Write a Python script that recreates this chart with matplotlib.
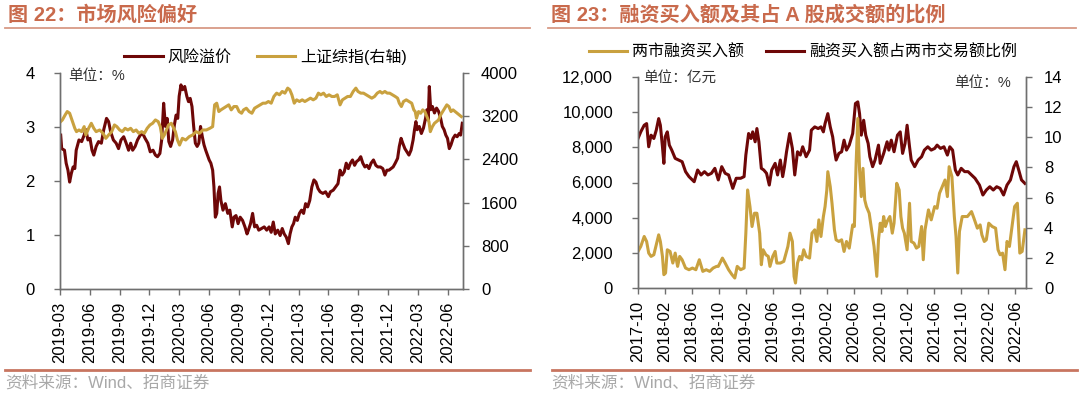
import matplotlib.pyplot as plt
from matplotlib.ticker import FuncFormatter

plt.rcParams['font.family'] = ['Liberation Sans', 'Noto Sans CJK SC']

# ---------------- data: chart 22 (months since 2019-03) ----------------
left_ticks = ['2019-03', '2019-06', '2019-09', '2019-12', '2020-03', '2020-06', '2020-09',
              '2020-12', '2021-03', '2021-06', '2021-09', '2021-12', '2022-03', '2022-06']

rp_m = [0.07, 0.17, 0.45, 0.62, 0.80, 0.97, 1.14, 1.32, 1.49, 1.63,
        1.91, 2.18, 2.43, 2.60, 2.81, 3.02, 3.22, 3.40, 3.64, 3.88,
        4.16, 4.40, 4.68, 4.89, 5.10, 5.37, 5.65, 5.89, 6.14, 6.41,
        6.66, 6.90, 7.11, 7.31, 7.56, 7.80, 8.08, 8.32, 8.56, 8.84,
        9.08, 9.36, 9.60, 9.81, 10.05, 10.23, 10.43, 10.61, 10.78, 10.95,
        11.13, 11.33, 11.51, 11.68, 11.85, 11.99, 12.17, 12.34, 12.55, 12.76,
        12.93, 13.10, 13.28, 13.45, 13.62, 13.80, 13.97, 14.14, 14.32, 14.49,
        14.66, 14.84, 15.01, 15.18, 15.36, 15.49, 15.63, 15.77, 15.91, 16.05,
        16.19, 16.40, 16.64, 16.88, 17.09, 17.33, 17.50, 17.71, 17.92, 18.13,
        18.37, 18.61, 18.82, 18.96, 19.17, 19.38, 19.58, 19.79, 20.00, 20.28,
        20.55, 20.80, 21.04, 21.25, 21.46, 21.66, 21.91, 22.15, 22.36, 22.56,
        22.77, 22.98, 23.15, 23.33, 23.50, 23.67, 23.88, 24.09, 24.30, 24.51,
        24.71, 24.92, 25.13, 25.34, 25.55, 25.75, 25.96, 26.17, 26.45, 26.72,
        27.00, 27.21, 27.49, 27.73, 27.97, 28.18, 28.39, 28.60, 28.80, 29.01,
        29.22, 29.43, 29.64, 29.84, 30.05, 30.26, 30.47, 30.68, 30.88, 31.09,
        31.30, 31.54, 31.78, 31.99, 32.24, 32.48, 32.69, 32.89, 33.10, 33.31,
        33.52, 33.73, 33.97, 34.14, 34.32, 34.49, 34.70, 34.90, 35.11, 35.32,
        35.53, 35.67, 35.81, 35.94, 36.15, 36.36, 36.57, 36.78, 36.92, 37.05,
        37.16, 37.30, 37.47, 37.68, 37.89, 38.09, 38.30, 38.47, 38.65, 38.82,
        38.99, 39.17, 39.34, 39.55, 39.76, 39.96, 40.17, 40.31, 40.48]
rp_val = [2.85, 2.60, 2.57, 2.33, 2.20, 1.98, 2.14, 2.26, 2.23, 2.57,
          2.76, 2.73, 2.85, 2.95, 2.76, 2.79, 2.57, 2.48, 2.64, 2.73,
          2.70, 2.95, 3.16, 3.10, 2.91, 2.76, 2.70, 2.60, 2.76, 2.82,
          2.70, 2.57, 2.70, 2.57, 2.64, 2.76, 2.85, 2.88, 2.79, 2.70,
          2.54, 2.57, 2.48, 2.45, 2.51, 2.76, 3.44, 3.01, 3.16, 2.73,
          2.64, 2.76, 3.04, 3.22, 3.16, 3.57, 3.78, 3.69, 3.75, 3.57,
          3.47, 3.53, 3.38, 3.01, 2.70, 2.64, 2.70, 3.01, 2.82, 2.67,
          2.57, 2.48, 2.39, 2.33, 2.20, 1.89, 1.33, 1.40, 1.77, 1.89,
          1.64, 1.46, 1.58, 1.40, 1.46, 1.15, 1.33, 1.36, 1.21, 1.33,
          1.27, 1.15, 1.02, 1.09, 1.21, 1.40, 1.15, 1.18, 1.09, 1.12,
          1.15, 1.09, 1.15, 1.05, 1.24, 1.02, 1.09, 0.99, 1.12, 1.02,
          0.96, 0.84, 1.02, 1.15, 1.21, 1.33, 1.27, 1.40, 1.46, 1.40,
          1.58, 1.52, 1.64, 1.89, 2.02, 1.98, 1.86, 1.80, 1.77, 1.80,
          1.71, 1.80, 1.83, 1.89, 1.95, 2.20, 2.11, 2.17, 2.33, 2.23,
          2.33, 2.39, 2.29, 2.36, 2.39, 2.45, 2.33, 2.26, 2.29, 2.23,
          2.33, 2.39, 2.29, 2.26, 2.26, 2.23, 2.11, 2.20, 2.20, 2.23,
          2.26, 2.33, 2.42, 2.64, 2.79, 2.70, 2.60, 2.54, 2.48, 2.57,
          2.76, 2.95, 3.10, 2.95, 3.01, 2.88, 2.98, 3.16, 3.32, 3.13,
          3.75, 3.32, 3.38, 3.26, 3.35, 3.29, 3.16, 3.01, 2.95, 2.85,
          2.79, 2.60, 2.67, 2.79, 2.85, 2.82, 2.88, 2.85, 3.07]

sse_m = [0.07, 0.24, 0.52, 0.73, 0.97, 1.14, 1.32, 1.49, 1.66, 1.91,
         2.18, 2.43, 2.60, 2.88, 3.15, 3.40, 3.64, 3.99, 4.33, 4.61,
         4.89, 5.20, 5.48, 5.72, 6.00, 6.27, 6.55, 6.83, 7.11, 7.38,
         7.66, 7.94, 8.21, 8.49, 8.77, 9.05, 9.32, 9.60, 9.88, 10.09,
         10.29, 10.50, 10.71, 10.92, 11.20, 11.44, 11.61, 11.82, 12.03, 12.31,
         12.65, 13.00, 13.34, 13.69, 14.04, 14.38, 14.73, 15.08, 15.36, 15.56,
         15.77, 15.98, 16.19, 16.46, 16.74, 16.98, 17.23, 17.50, 17.78, 18.02,
         18.27, 18.47, 18.75, 19.03, 19.31, 19.58, 19.86, 20.14, 20.42, 20.69,
         20.97, 21.25, 21.52, 21.80, 22.08, 22.36, 22.63, 22.91, 23.12, 23.33,
         23.57, 23.81, 24.09, 24.37, 24.64, 24.92, 25.20, 25.48, 25.75, 26.00,
         26.24, 26.52, 26.79, 27.07, 27.35, 27.63, 27.90, 28.18, 28.42, 28.67,
         28.94, 29.22, 29.50, 29.77, 29.98, 30.26, 30.54, 30.81, 31.09, 31.37,
         31.65, 31.92, 32.20, 32.41, 32.69, 32.93, 33.17, 33.45, 33.73, 33.97,
         34.14, 34.35, 34.56, 34.84, 35.11, 35.39, 35.60, 35.74, 35.87, 36.08,
         36.29, 36.50, 36.71, 36.92, 37.12, 37.26, 37.47, 37.68, 37.89, 38.09,
         38.30, 38.51, 38.72, 38.92, 39.13, 39.34, 39.55, 39.76, 39.96, 40.17,
         40.38]
sse_val = [3100, 3131, 3224, 3286, 3255, 3162, 3069, 2976, 2914, 2945,
           2914, 3007, 2852, 2976, 3069, 2976, 2914, 2945, 2883, 2790,
           2852, 2914, 3038, 3007, 2945, 2914, 2976, 2945, 2976, 2914,
           2945, 2883, 2914, 2883, 2976, 3038, 3069, 3131, 3100, 3007,
           2790, 2852, 2945, 3038, 3069, 2976, 2914, 2759, 2666, 2790,
           2759, 2821, 2852, 2914, 2883, 2945, 2945, 2976, 3007, 3410,
           3441, 3286, 3317, 3348, 3379, 3410, 3317, 3379, 3379, 3286,
           3255, 3317, 3348, 3286, 3255, 3348, 3379, 3410, 3441, 3441,
           3472, 3441, 3565, 3627, 3596, 3658, 3627, 3720, 3689, 3596,
           3441, 3503, 3472, 3503, 3472, 3503, 3534, 3503, 3534, 3627,
           3596, 3627, 3565, 3596, 3565, 3565, 3596, 3410, 3503, 3534,
           3565, 3565, 3658, 3720, 3658, 3627, 3627, 3596, 3565, 3534,
           3565, 3627, 3658, 3627, 3658, 3627, 3627, 3596, 3565, 3534,
           3441, 3379, 3472, 3503, 3472, 3441, 3317, 3286, 3162, 3286,
           3255, 3317, 3286, 3193, 3100, 2914, 3007, 3069, 3100, 3131,
           3224, 3286, 3348, 3410, 3379, 3286, 3317, 3286, 3255, 3224,
           3193]

# ---------------- data: chart 23 (months since 2017-10) ----------------
right_ticks = ['2017-10', '2018-02', '2018-06', '2018-10', '2019-02', '2019-06', '2019-10',
               '2020-02', '2020-06', '2020-10', '2021-02', '2021-06', '2021-10', '2022-02',
               '2022-06']

ratio_m = [0.00, 0.41, 0.92, 1.28, 1.59, 1.94, 2.35, 2.71, 3.07, 3.32,
           3.63, 3.84, 4.04, 4.35, 4.65, 5.01, 5.52, 6.04, 6.55, 7.06,
           7.57, 8.34, 8.85, 9.36, 9.87, 10.38, 10.90, 11.41, 11.92, 12.43,
           12.94, 13.45, 14.07, 14.58, 15.24, 15.75, 16.01, 16.42, 16.78, 17.03,
           17.39, 17.65, 17.95, 18.31, 18.67, 19.08, 19.49, 19.85, 20.36, 20.72,
           21.13, 21.48, 21.74, 22.05, 22.51, 22.92, 23.27, 23.68, 24.09, 24.45,
           24.96, 25.47, 25.73, 26.24, 26.75, 27.16, 27.52, 27.77, 28.18, 28.54,
           28.90, 29.16, 29.41, 29.82, 30.23, 30.59, 30.95, 31.36, 31.87, 32.28,
           32.63, 32.89, 33.15, 33.50, 33.81, 34.17, 34.42, 34.83, 35.19, 35.70,
           35.96, 36.47, 36.98, 37.24, 37.60, 38.01, 38.52, 38.93, 39.28, 39.64,
           39.95, 40.31, 40.56, 41.07, 41.59, 42.10, 42.51, 43.02, 43.53, 44.04,
           44.40, 44.91, 45.42, 45.93, 46.29, 46.70, 47.11, 47.47, 47.98, 48.49,
           49.00, 49.51, 50.03, 50.69, 51.20, 51.71, 52.23, 52.74, 53.25, 53.76,
           54.27, 54.78, 55.29, 55.81, 56.16, 56.52, 56.93, 57.44]
ratio_val = [9.92, 10.36, 10.80, 10.91, 9.37, 10.14, 9.92, 10.47, 11.24, 10.80,
             9.37, 8.27, 10.03, 10.36, 9.48, 9.15, 8.60, 8.49, 8.38, 7.72,
             7.39, 7.05, 7.83, 7.50, 7.72, 7.50, 7.61, 7.94, 7.17, 8.05,
             7.61, 7.50, 6.61, 7.28, 7.28, 7.39, 8.82, 10.25, 9.92, 10.36,
             9.70, 10.58, 9.70, 7.94, 7.83, 7.61, 6.83, 7.83, 8.27, 7.50,
             8.49, 7.39, 8.05, 9.04, 10.25, 9.26, 7.50, 9.04, 8.82, 9.37,
             8.71, 9.15, 10.47, 10.69, 10.58, 10.69, 10.36, 10.91, 11.57, 10.69,
             10.03, 9.15, 8.49, 8.93, 9.04, 9.81, 9.15, 9.48, 10.25, 12.24,
             12.35, 11.57, 10.14, 11.13, 10.14, 9.59, 8.71, 8.05, 8.49, 9.48,
             8.27, 8.93, 9.70, 9.15, 9.81, 9.04, 10.14, 10.36, 8.93, 9.59,
             10.80, 9.37, 8.49, 8.05, 8.49, 8.71, 9.15, 9.37, 9.15, 9.26,
             9.48, 9.26, 9.37, 8.82, 9.37, 9.15, 7.83, 7.50, 7.94, 7.72,
             7.72, 7.50, 7.28, 6.83, 6.17, 6.50, 6.72, 6.50, 6.72, 6.61,
             6.17, 6.83, 7.17, 8.05, 8.38, 7.83, 7.17, 6.94]

fin_m = [0.00, 0.41, 0.92, 1.28, 1.59, 1.94, 2.35, 2.71, 3.07, 3.32,
         3.63, 3.84, 4.09, 4.35, 4.76, 5.17, 5.52, 5.88, 6.19, 6.55,
         7.06, 7.57, 8.08, 8.59, 9.10, 9.62, 10.13, 10.64, 11.15, 11.66,
         11.92, 12.53, 12.94, 13.45, 13.96, 14.37, 14.73, 15.24, 15.75, 16.01,
         16.27, 16.62, 16.93, 17.29, 17.65, 18.06, 18.31, 18.57, 18.98, 19.34,
         19.59, 20.00, 20.36, 20.61, 21.13, 21.64, 22.05, 22.25, 22.56, 22.92,
         23.17, 23.38, 23.68, 23.99, 24.30, 24.60, 24.96, 25.47, 25.83, 26.24,
         26.55, 26.85, 27.16, 27.52, 27.77, 28.03, 28.18, 28.54, 28.80, 29.16,
         29.41, 29.82, 30.23, 30.59, 30.95, 31.36, 31.61, 31.87, 32.12, 32.38,
         32.63, 32.89, 33.15, 33.40, 33.66, 33.91, 34.32, 34.68, 35.04, 35.45,
         35.70, 35.96, 36.21, 36.47, 36.73, 36.98, 37.39, 37.75, 38.01, 38.41,
         38.77, 39.03, 39.28, 39.54, 39.95, 40.31, 40.56, 40.97, 41.33, 41.69,
         42.10, 42.35, 42.61, 43.12, 43.53, 44.04, 44.40, 44.76, 45.17, 45.58,
         45.93, 46.19, 46.60, 46.96, 47.21, 47.47, 47.72, 48.13, 48.49, 48.90,
         49.51, 49.87, 50.38, 50.79, 51.05, 51.41, 51.71, 52.07, 52.58, 53.09,
         53.45, 53.76, 54.12, 54.48, 54.78, 55.14, 55.65, 55.91, 56.32, 56.68,
         57.03, 57.44]
fin_val = [2079, 2363, 2930, 2646, 1985, 1796, 1890, 2457, 3024, 2646,
           1796, 756, 851, 2174, 2079, 1418, 1985, 1229, 1796, 1607,
           1134, 1040, 1134, 1040, 1607, 945, 1040, 945, 1134, 1229,
           1229, 1701, 1418, 1040, 756, 567, 1229, 1040, 1134, 3119,
           5576, 4631, 3497, 4253, 4253, 3119, 1323, 2174, 1890, 1796,
           1229, 1796, 2079, 1418, 1418, 1512, 2079, 2363, 3119, 2646,
           662, 284, 1418, 1796, 1607, 2174, 1796, 1701, 3119, 3308,
           2646, 3875, 2930, 4064, 4631, 5576, 6615, 5765, 4820, 3308,
           2741, 2646, 2741, 2079, 2646, 2268, 2930, 3591, 3497, 7088,
           9639, 6710, 5198, 6804, 5009, 4631, 4253, 3308, 2363, 662,
           2741, 3686, 3213, 4064, 3497, 3780, 4064, 3119, 3686, 5954,
           5576, 4064, 3402, 3119, 2174, 4820, 2646, 2552, 2268, 2363,
           3497, 1607, 3308, 4442, 3875, 4631, 4536, 5387, 5765, 6143,
           5198, 6899, 6332, 4064, 2930, 851, 3213, 4064, 4064, 4064,
           4347, 3969, 3402, 3591, 3024, 2646, 2741, 3686, 3497, 3402,
           2174, 1890, 1985, 1040, 2646, 2363, 3875, 4631, 4820, 1985,
           2079, 3308]

RED = '#6E0707'
GOLD = '#C9A13F'
TITLE_C = '#C96A4C'
AXIS_C = '#6F6F6F'
W, H = 1080, 399

fig = plt.figure(figsize=(W / 100, H / 100), dpi=100)

# page furniture in pixel coordinates
bg = fig.add_axes([0, 0, 1, 1])
bg.set_xlim(0, W)
bg.set_ylim(H, 0)
bg.axis('off')
bg.text(8, 15, '图 22：市场风险偏好', fontsize=14.5, fontweight='bold', color=TITLE_C, va='center')
bg.text(551, 15, '图 23：融资买入额及其占 A 股成交额的比例', fontsize=14.5, fontweight='bold',
        color=TITLE_C, va='center')
bg.plot([5, 530], [27.5, 27.5], color='#D89A86', lw=1.3)
bg.plot([548, 1076], [27.5, 27.5], color='#D89A86', lw=1.3)
bg.plot([5, 530], [369.5, 369.5], color='#C87560', lw=2)
bg.plot([552, 1077], [369.5, 369.5], color='#C87560', lw=2)
bg.text(5, 383, '资料来源：Wind、招商证券', fontsize=12, color='#A8A8A8', va='center')
bg.text(551, 383, '资料来源：Wind、招商证券', fontsize=12, color='#A8A8A8', va='center')


def style(ax, twin, lpad, rpad):
    for a in (ax, twin):
        a.spines['top'].set_visible(False)
        for s in ('left', 'right', 'bottom'):
            a.spines[s].set_color(AXIS_C)
            a.spines[s].set_linewidth(1.0)
        a.tick_params(axis='both', colors=AXIS_C, labelcolor='black', labelsize=12, length=4,
                      width=1.0, direction='out')
    ax.tick_params(axis='y', pad=lpad)
    twin.tick_params(axis='y', pad=rpad)
    ax.tick_params(axis='x', labelrotation=90, pad=5)


# ---------------- chart 22 ----------------
ax1 = fig.add_axes([60 / W, 1 - 289 / H, 403 / W, 216 / H])
ax1b = ax1.twinx()
l1, = ax1.plot(rp_m, rp_val, color=RED, lw=2.2, label='风险溢价')
l2, = ax1b.plot(sse_m, sse_val, color=GOLD, lw=2.2, label='上证综指(右轴)')
ax1.set_ylim(0, 4)
ax1.set_yticks(range(0, 5))
ax1b.set_ylim(0, 4000)
ax1b.set_yticks(range(0, 4001, 800))
ax1.set_xlim(0, 40.55)
ax1.set_xticks(range(0, 3 * len(left_ticks), 3))
ax1.set_xticklabels(left_ticks)
style(ax1, ax1b, 14, 9)
ax1.legend(handles=[l1, l2], loc='center', bbox_to_anchor=(0.51, 1.075), ncol=2, frameon=False,
           fontsize=11.5, handlelength=2.4, handletextpad=0.3, columnspacing=1.6)
ax1.text(0.02, 0.985, '单位：%', transform=ax1.transAxes, fontsize=10.5, color='#333333',
         va='center')

# ---------------- chart 23 ----------------
ax2 = fig.add_axes([638 / W, 1 - 288 / H, 388 / W, 211 / H])
ax2b = ax2.twinx()
g1, = ax2.plot(fin_m, fin_val, color=GOLD, lw=2.2, label='两市融资买入额')
g2, = ax2b.plot(ratio_m, ratio_val, color=RED, lw=2.2, label='融资买入额占两市交易额比例')
ax2.set_zorder(ax2b.get_zorder() + 1)
ax2.patch.set_visible(False)
ax2.set_ylim(0, 12000)
ax2.set_yticks(range(0, 12001, 2000))
ax2.yaxis.set_major_formatter(FuncFormatter(lambda v, p: f'{int(v):,}'))
ax2b.set_ylim(0, 14)
ax2b.set_yticks(range(0, 15, 2))
ax2.set_xlim(0, 57.6)
ax2.set_xticks(range(0, 4 * len(right_ticks), 4))
ax2.set_xticklabels(right_ticks)
style(ax2, ax2b, 14, 9)
ax2.legend(handles=[g1, g2], loc='center', bbox_to_anchor=(0.425, 1.118), ncol=2, frameon=False,
           fontsize=11.5, handlelength=2.4, handletextpad=0.3, columnspacing=1.4)
ax2.text(0.013, 0.995, '单位：亿元', transform=ax2.transAxes, fontsize=10.5, color='#333333',
         va='center')
ax2.text(0.96, 0.97, '单位：%', transform=ax2.transAxes, fontsize=10.5, color='#333333',
         va='center', ha='right')

fig.savefig('out.png', dpi=100, facecolor='white')
